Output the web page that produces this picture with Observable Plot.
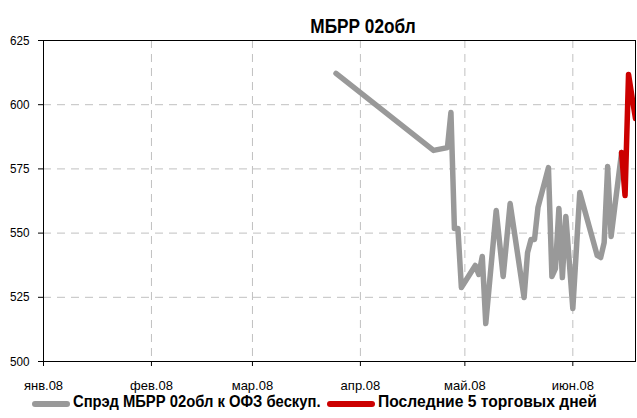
<!DOCTYPE html>
<html>
<head>
<meta charset="utf-8">
<script src="https://cdn.jsdelivr.net/npm/d3@7"></script>
<script src="https://cdn.jsdelivr.net/npm/@observablehq/plot@0.6"></script>
<style>
  html, body { margin: 0; padding: 0; background: #fff; }
  #wrap { width: 637px; height: 418px; position: relative; overflow: hidden;
    font-family: "Liberation Sans Narrow", "Arial Narrow", "Liberation Sans", Arial, sans-serif; }
  #title { height: 32px; position: relative; }
  #title span { position: absolute; left: 363px; top: 15px; transform: translateX(-50%) scaleX(0.82);
    font-size: 21px; font-weight: bold; line-height: 21px; white-space: nowrap; color: #000; }
  #legend { height: 20px; position: relative; }
  .sw { position: absolute; height: 6px; border-radius: 3px; top: 3px; }
  .lt { position: absolute; top: -5px; font-size: 17px; font-weight: bold; line-height: 17px; white-space: nowrap; color: #000;
    transform-origin: left center; }
  svg { display: block; }
</style>
</head>
<body>
<div id="wrap">
  <div id="title"><span>МБРР 02обл</span></div>
  <div id="chart"></div>
  <div id="legend">
    <div class="sw" style="left:32px;width:38px;background:#999999"></div>
    <div class="lt" style="left:73px;transform:scaleX(0.87)">Спрэд МБРР 02обл к ОФЗ бескуп.</div>
    <div class="sw" style="left:327px;width:48px;background:#cc0000"></div>
    <div class="lt" style="left:378px;transform:scaleX(0.92)">Последние 5 торговых дней</div>
  </div>
</div>
<script>
const grayDates = ["2008-03-25","2008-04-22","2008-04-26","2008-04-27","2008-04-28","2008-04-29","2008-04-30",
  "2008-05-04","2008-05-05","2008-05-06","2008-05-07","2008-05-10","2008-05-12","2008-05-14","2008-05-18",
  "2008-05-19","2008-05-20","2008-05-21","2008-05-22","2008-05-25","2008-05-26","2008-05-27","2008-05-28",
  "2008-05-29","2008-05-30","2008-06-01","2008-06-03","2008-06-08","2008-06-09","2008-06-10","2008-06-11",
  "2008-06-12","2008-06-15"];
const grayValues = [612.2, 582.2, 583.3, 597.0, 551.8, 551.8, 528.8,
  537.4, 533.9, 540.9, 514.8, 558.8, 533.1, 561.5, 524.9,
  542.4, 547.5, 547.5, 560.0, 575.5, 533.1, 536.2, 559.6,
  532.7, 556.5, 520.6, 565.8, 541.3, 540.5, 546.3, 575.9,
  548.7, 581.4];
const redDates = ["2008-06-15","2008-06-16","2008-06-17","2008-06-18","2008-06-19"];
const redValues = [581.4, 564.6, 611.8, 603.0, 594.6];
const monthTicks = ["2008-01-01","2008-02-01","2008-03-01","2008-04-01","2008-05-01","2008-06-01"];
const monthLabels = ["янв.08","фев.08","мар.08","апр.08","май.08","июн.08"];
const yTicks = [500, 525, 550, 575, 600, 625];

const gray = grayDates.map((d, i) => ({date: new Date(d), value: grayValues[i]}));
const red = redDates.map((d, i) => ({date: new Date(d), value: redValues[i]}));
const mt = monthTicks.map(d => new Date(d));
const labelOf = new Map(mt.map((d, i) => [+d, monthLabels[i]]));

const font = '"Liberation Sans", Arial, sans-serif';

const chart = Plot.plot({
  width: 637,
  height: 366,
  marginTop: 8,
  marginBottom: 37,
  marginLeft: 43,
  marginRight: 2,
  style: {fontFamily: font, fontSize: "13px", color: "#000", background: "#fff", overflow: "visible"},
  x: {type: "utc", domain: [new Date("2008-01-01"), new Date("2008-06-19")]},
  y: {domain: [500, 625]},
  marks: [
    Plot.gridY(yTicks.slice(1, -1), {stroke: "#c0c0c0", strokeOpacity: 1, strokeDasharray: "8,6"}),
    Plot.gridX(mt.slice(1), {stroke: "#c0c0c0", strokeOpacity: 1, strokeDasharray: "8,6"}),
    Plot.line(gray, {x: "date", y: "value", stroke: "#999999", strokeWidth: 5.5, strokeLinejoin: "round", strokeLinecap: "round"}),
    Plot.line(red, {x: "date", y: "value", stroke: "#cc0000", strokeWidth: 5.5, strokeLinejoin: "round", strokeLinecap: "round", clip: true}),
    Plot.frame({stroke: "#000", strokeWidth: 1}),
    Plot.axisY(yTicks, {tickSize: 5, tickPadding: 9, label: null, fill: "#000", stroke: "#000", fontSize: 13}),
    Plot.axisX(mt, {tickSize: 5, tickPadding: 14, label: null, tickFormat: d => labelOf.get(+d), fill: "#000", stroke: "#000", fontSize: 13})
  ]
});
// slightly condense the value labels, as in the original
d3.select(chart).selectAll("g[aria-label='y-axis tick label'] text").each(function() {
  const t = this.getAttribute("transform") || "";
  this.setAttribute("transform", t + " scale(0.9,1)");
});
document.getElementById("chart").appendChild(chart);
</script>
</body>
</html>
